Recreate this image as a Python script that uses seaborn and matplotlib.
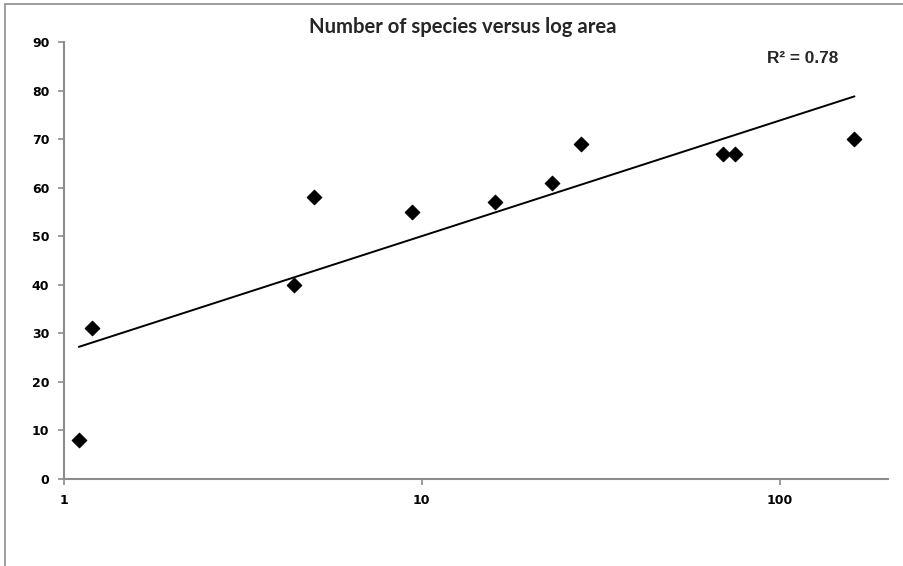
import matplotlib
matplotlib.use("Agg")
import matplotlib.pyplot as plt
from matplotlib.patches import Rectangle
from matplotlib.ticker import NullLocator
import pandas as pd
import seaborn as sns

# island area (log axis) and number of species
area = [1.10, 1.20, 4.4, 5.0, 9.4, 16.0, 23.1, 27.9, 69.6, 75.0, 162.0]
species = [8, 31, 40, 58, 55, 57, 61, 69, 67, 67, 70]
x_ticks = [1, 10, 100]
x_tick_labels = ["1", "10", "100"]
y_ticks = list(range(0, 100, 10))

df = pd.DataFrame({"area": area, "species": species})

sns.set_style("ticks")
plt.rcParams["font.family"] = ["DejaVu Sans"]

fig = plt.figure(figsize=(9.04, 5.66), dpi=100)
ax = fig.add_axes([64 / 904, 1 - 479 / 566, 824 / 904, 437 / 566])

ax.set_xscale("log")
sns.regplot(data=df, x="area", y="species", logx=True, ci=None, ax=ax,
            marker="D",
            scatter_kws={"s": 55, "color": "black", "edgecolors": "black", "linewidths": 0.8,
                         "alpha": 1, "zorder": 3},
            line_kws={"color": "black", "linewidth": 1.4})

ax.set_xlim(1, 201)
ax.set_ylim(0, 90)
ax.set_xticks(x_ticks, x_tick_labels)
ax.xaxis.set_minor_locator(NullLocator())
ax.set_yticks(y_ticks)
ax.set_xlabel("")
ax.set_ylabel("")

for s in ["top", "right"]:
    ax.spines[s].set_visible(False)
for s in ["left", "bottom"]:
    ax.spines[s].set_color("#8c8c8c")
    ax.spines[s].set_linewidth(1.5)
ax.tick_params(axis="both", colors="#8c8c8c", length=4, width=1.2, pad=6.5,
               labelcolor="black", labelsize=9)
for lbl in ax.get_xticklabels() + ax.get_yticklabels():
    lbl.set_fontweight("bold")

fig.text(463 / 904, 1 - 27 / 566, "Number of species versus log area",
         ha="center", va="center", fontsize=14.6, fontweight="bold", family=["Lato", "DejaVu Sans"])
ax.text(0.853, 0.963, "R² = 0.78", transform=ax.transAxes, ha="left", va="center",
        fontsize=12.4, fontweight="bold", family=["Liberation Sans", "DejaVu Sans"])

# outer chart frame (cropped at right and bottom)
fig.patches.append(Rectangle((5 / 904, -0.05), 1.2, 1.05 - 4 / 566, transform=fig.transFigure,
                             fill=False, edgecolor="#8c8c8c", linewidth=1.2))

fig.savefig("out.png", dpi=100)
